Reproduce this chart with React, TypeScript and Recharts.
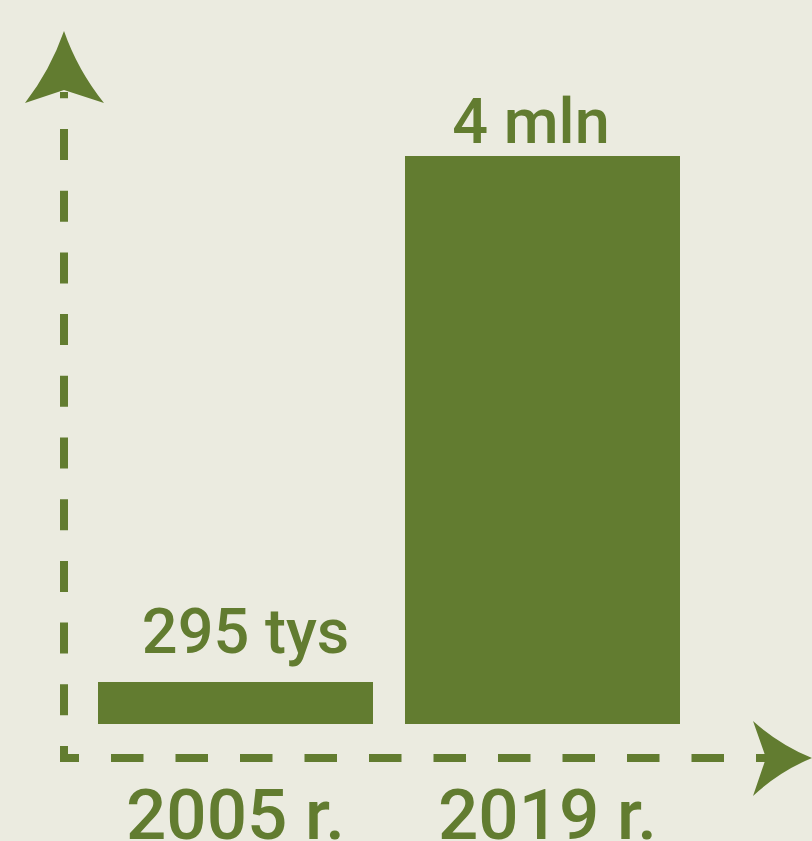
import { BarChart, Bar, XAxis, YAxis, LabelList } from "recharts";

const categories = ["2005 r.", "2019 r."];
const values = [295000, 4000000];
const valueLabels = ["295 tys", "4 mln"];

const GREEN = "#627C30";
const BG = "#EBEBE0";
const W = 812;
const H = 841;

// plot area
const PLOT_LEFT = 82;
const PLOT_RIGHT = 696;
const PLOT_TOP = 156;
const PLOT_BOTTOM = 724;
const X_AXIS_H = 20;

// per-bar nudges for the labels (layout only)
const LABEL_DX = [10, -11.5];
const LABEL_GAP = [29, 13];
const TICK_DX = [0, 5];

const data = categories.map((year, i) => ({
  year,
  value: values[i],
  label: valueLabels[i],
}));

const YearTick = ({ x, y, payload, index }: any) => (
  <text
    x={x + (TICK_DX[index] ?? 0)}
    y={y + 114.5}
    textAnchor="middle"
    fill={GREEN}
    fontFamily="Roboto"
    fontWeight={500}
    fontSize={71}
  >
    {payload.value}
  </text>
);

const ValueLabel = (props: any) => {
  const { x, y, width, index, value } = props;
  return (
    <text
      x={x + width / 2 + LABEL_DX[index]}
      y={y - LABEL_GAP[index]}
      textAnchor="middle"
      fill={GREEN}
      fontFamily="Roboto"
      fontWeight={500}
      fontSize={63}
    >
      {value}
    </text>
  );
};

const Axes = () => (
  <svg
    width={W}
    height={H}
    style={{ position: "absolute", left: 0, top: 0, pointerEvents: "none" }}
  >
    <line
      x1={64}
      y1={762}
      x2={64}
      y2={92}
      stroke={GREEN}
      strokeWidth={8}
      strokeDasharray="31 30.7"
      strokeDashoffset={15}
    />
    <line
      x1={60}
      y1={758}
      x2={770}
      y2={758}
      stroke={GREEN}
      strokeWidth={8}
      strokeDasharray="32.5 32"
      strokeDashoffset={13.5}
    />
    <path
      d="M64,31 Q50.3,70.2 25,103 L64,90 L104,103 Q77.7,70.2 64,31 Z"
      fill={GREEN}
    />
    <path
      d="M812,758 Q779.3,744.6 753,721 L766,758 L753,796 Q779.3,771.4 812,758 Z"
      fill={GREEN}
    />
  </svg>
);

export default function App() {
  return (
    <div
      style={{
        position: "absolute",
        left: 0,
        top: 0,
        width: W,
        height: H,
        background: BG,
        overflow: "hidden",
      }}
    >
      <BarChart
        width={W}
        height={H}
        data={data}
        barCategoryGap={16}
        margin={{
          top: PLOT_TOP,
          right: W - PLOT_RIGHT,
          left: PLOT_LEFT,
          bottom: H - PLOT_BOTTOM - X_AXIS_H,
        }}
      >
        <XAxis
          dataKey="year"
          height={X_AXIS_H}
          axisLine={false}
          tickLine={false}
          tickSize={0}
          tickMargin={0}
          interval={0}
          tick={<YearTick />}
        />
        <YAxis hide domain={[0, 4000000]} />
        <Bar dataKey="value" fill={GREEN} isAnimationActive={false}>
          <LabelList dataKey="label" content={<ValueLabel />} />
        </Bar>
      </BarChart>
      <Axes />
    </div>
  );
}
